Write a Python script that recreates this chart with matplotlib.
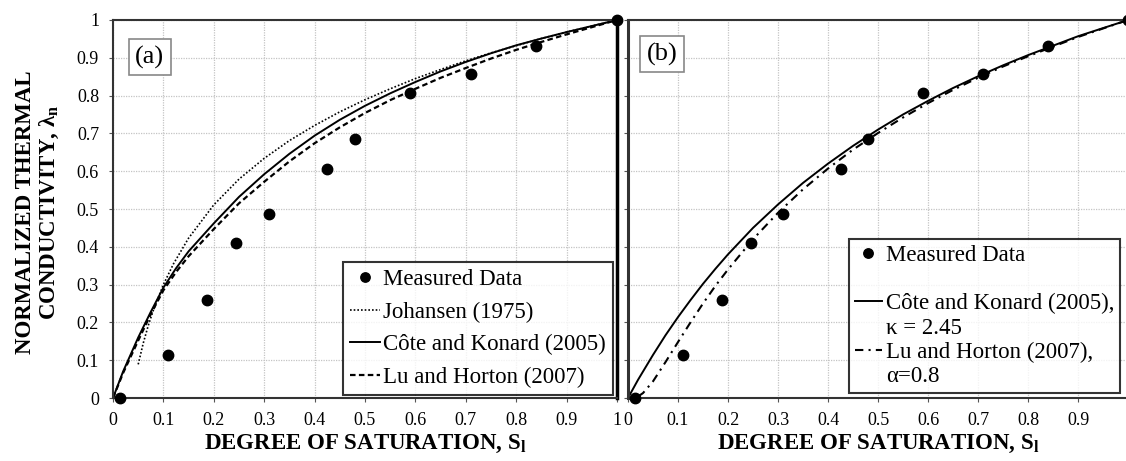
import numpy as np
import matplotlib
matplotlib.use('Agg')
import matplotlib.pyplot as plt
from matplotlib.lines import Line2D

plt.rcParams['font.family'] = ['Liberation Serif', 'DejaVu Serif']
plt.rcParams['mathtext.fontset'] = 'custom'
plt.rcParams['mathtext.rm'] = 'Liberation Serif'
plt.rcParams['mathtext.it'] = 'Liberation Serif:italic'
plt.rcParams['mathtext.bf'] = 'Liberation Serif:bold'

# measured data (same in both panels)
sat_meas = [0.013, 0.11, 0.187, 0.245, 0.31, 0.425, 0.48, 0.59, 0.71, 0.84, 1.0]
lam_meas = [0.0, 0.115, 0.258, 0.41, 0.486, 0.606, 0.686, 0.806, 0.858, 0.932, 1.0]

# panel (a) curves
sat_joh = [0.05, 0.06, 0.07, 0.08, 0.1, 0.12, 0.15, 0.2, 0.25, 0.3, 0.35, 0.4, 0.45, 0.5,
           0.55, 0.6, 0.65, 0.7, 0.75, 0.8, 0.85, 0.9, 0.95, 1.0]
lam_joh = [0.089, 0.145, 0.192, 0.232, 0.30, 0.355, 0.423, 0.511, 0.579, 0.634, 0.681,
           0.721, 0.757, 0.789, 0.818, 0.845, 0.869, 0.892, 0.913, 0.932, 0.951, 0.968,
           0.984, 1.0]

sat_a = [0, 0.02, 0.05, 0.075, 0.1, 0.125, 0.15, 0.2, 0.25, 0.3, 0.35, 0.4, 0.45, 0.5,
         0.55, 0.6, 0.65, 0.7, 0.75, 0.8, 0.85, 0.9, 0.95, 1.0]
lam_cote_a = [0, 0.07, 0.16, 0.228, 0.292, 0.343, 0.388, 0.462, 0.532, 0.592, 0.646,
              0.694, 0.736, 0.773, 0.806, 0.836, 0.864, 0.889, 0.912, 0.933, 0.951,
              0.968, 0.984, 1.0]
lam_lu_a = [0, 0.066, 0.152, 0.222, 0.285, 0.333, 0.375, 0.447, 0.515, 0.572, 0.626,
            0.674, 0.716, 0.754, 0.788, 0.818, 0.847, 0.873, 0.898, 0.921, 0.942,
            0.962, 0.981, 1.0]

# panel (b) curves
sat_cote_b = [0, 0.02, 0.05, 0.075, 0.1, 0.125, 0.15, 0.175, 0.2, 0.25, 0.3, 0.35, 0.4,
              0.45, 0.5, 0.55, 0.6, 0.65, 0.7, 0.75, 0.8, 0.9, 1.0]
lam_cote_b = [0, 0.048, 0.114, 0.166, 0.214, 0.259, 0.302, 0.342, 0.38, 0.45, 0.512,
              0.569, 0.62, 0.667, 0.71, 0.75, 0.786, 0.82, 0.851, 0.88, 0.907, 0.957, 1.0]
sat_lu_b = [0.02, 0.03, 0.05, 0.075, 0.1, 0.125, 0.15, 0.175, 0.2, 0.25, 0.3, 0.35, 0.4,
            0.45, 0.5, 0.55, 0.6, 0.65, 0.7, 0.75, 0.8, 0.9, 1.0]
lam_lu_b = [0.004, 0.013, 0.044, 0.095, 0.148, 0.2, 0.25, 0.297, 0.34, 0.42, 0.49,
            0.552, 0.607, 0.657, 0.701, 0.742, 0.78, 0.815, 0.847, 0.877, 0.904, 0.955, 1.0]

ticks = np.round(np.arange(0, 1.01, 0.1), 1)
tick_lbls = ['0'] + ['%.1f' % t for t in ticks[1:-1]] + ['1']

W, H = 1126, 461
fig = plt.figure(figsize=(W / 100, H / 100), dpi=100)
ax1 = fig.add_axes([113 / W, 63 / H, 504 / W, 378 / H])
ax2 = fig.add_axes([628 / W, 63 / H, 500 / W, 378 / H])

for ax in (ax1, ax2):
    ax.set_xlim(0, 1)
    ax.set_ylim(0, 1)
    ax.set_xticks(ticks)
    ax.set_yticks(ticks)
    ax.set_yticklabels(tick_lbls, fontsize=13)
    ax.tick_params(direction='out', length=3, width=0.8, pad=7, color='#555555')
    ax.grid(True, color='#c4c4c4', ls=(0, (1, 1)), lw=0.9)
    ax.set_axisbelow(True)
    for s in ax.spines.values():
        s.set_color('#333333')
        s.set_linewidth(1.5)
    ax.set_xlabel('DEGREE OF SATURATION, S$_\\mathbf{l}$', fontsize=16.5, fontweight='bold')
    ax.xaxis.set_label_coords(0.5, -0.092)
    ax.xaxis.label.set_va('top')

ax1.set_xticklabels(tick_lbls, fontsize=13)
# the right panel's "1" falls off the page in the original
ax2.set_xticklabels(tick_lbls[:-1] + [''], fontsize=13)

ax1.spines['right'].set_color('black')
ax1.spines['right'].set_linewidth(2.5)
ax2.spines['left'].set_linewidth(2.2)
ax2.tick_params(axis='y', labelleft=False)

# panel (a)
ax1.plot(sat_meas, lam_meas, 'o', color='black', ms=7.5, clip_on=False, zorder=5,
         label='Measured Data')
ax1.plot(sat_joh, lam_joh, color='black', lw=1.2, ls=(0, (1, 1.2)), label='Johansen (1975)')
ax1.plot(sat_a, lam_cote_a, color='black', lw=1.4, label='Côte and Konard (2005)')
ax1.plot(sat_a, lam_lu_a, color='black', lw=1.6, ls=(0, (2.5, 1.5)), label='Lu and Horton (2007)')
leg1 = ax1.legend(loc='lower right', bbox_to_anchor=(0.992, 0.008), borderaxespad=0,
                  fontsize=16.5, frameon=True, fancybox=False, handlelength=1.3,
                  handletextpad=0.15, labelspacing=0.5, borderpad=0.3, markerscale=0.9)
leg1.get_frame().set_edgecolor('black')
leg1.get_frame().set_linewidth(1.5)
ax1.text(0.073, 0.902, '(a)', transform=ax1.transAxes, fontsize=19, ha='center', va='center',
         bbox=dict(boxstyle='square,pad=0.25', fc='white', ec='#888888', lw=1.2))

# panel (b)
ax2.plot(sat_meas, lam_meas, 'o', color='black', ms=7.5, clip_on=False, zorder=5)
ax2.plot(sat_cote_b, lam_cote_b, color='black', lw=1.4)
ax2.plot(sat_lu_b, lam_lu_b, color='black', lw=1.5, ls=(0, (4, 2.5, 1, 2.5)))
blank = Line2D([], [], color='none')
hdl = [Line2D([], [], marker='o', color='black', ls='none', ms=6.8), blank,
       Line2D([], [], color='black', lw=1.4), blank,
       Line2D([], [], color='black', lw=1.5, ls=(0, (4, 2.5, 1, 2.5))), blank]
lbl = ['Measured Data', ' ', 'Côte and Konard (2005),', 'κ = 2.45',
       'Lu and Horton (2007),', 'α=0.8']
leg2 = ax2.legend(hdl, lbl, loc='lower left', bbox_to_anchor=(0.442, 0.013), borderaxespad=0,
                  fontsize=16.5, frameon=True, fancybox=False, handlelength=1.2,
                  handletextpad=0.15, labelspacing=0.14, borderpad=0.25)
leg2.get_frame().set_edgecolor('black')
leg2.get_frame().set_linewidth(1.5)
ax2.text(0.068, 0.91, '(b)', transform=ax2.transAxes, fontsize=19, ha='center', va='center',
         bbox=dict(boxstyle='square,pad=0.25', fc='white', ec='#888888', lw=1.2))

fig.text(38 / W, 1 - 212 / H, 'NORMALIZED THERMAL\nCONDUCTIVITY, λ$_\\mathbf{n}$',
         rotation=90, ha='center', va='center', multialignment='center',
         fontsize=16.5, fontweight='bold', linespacing=1.15)

fig.savefig('out.png', dpi=100)
